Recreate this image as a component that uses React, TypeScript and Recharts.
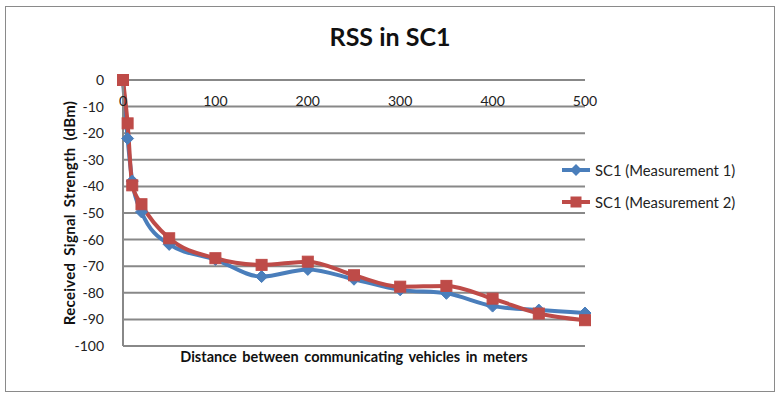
import React from "react";
import { LineChart, Line, XAxis, YAxis, CartesianGrid } from "recharts";

const distances = [0, 5, 10, 20, 50, 100, 150, 200, 250, 300, 350, 400, 450, 500];
const measurement1 = [0, -22, -38, -49.6, -61.8, -67.5, -73.9, -71.2, -74.9, -78.9, -80.2, -85, -86.5, -87.6];
const measurement2 = [0, -16.3, -39.6, -46.7, -59.5, -67, -69.5, -68.3, -73.4, -77.7, -77.4, -82.2, -87.8, -90.3];
const xTicks = [0, 100, 200, 300, 400, 500];
const yTicks = [0, -10, -20, -30, -40, -50, -60, -70, -80, -90, -100];
const seriesNames = ["SC1 (Measurement 1)", "SC1 (Measurement 2)"];

const BLUE = "#4A7EBB";
const RED = "#BE4B48";
const FONT = "Lato, 'Open Sans', sans-serif";

const data = distances.map((d, i) => ({ x: d, m1: measurement1[i], m2: measurement2[i] }));

const Diamond = (props: any) => {
  const { cx, cy, key } = props;
  if (cx == null || cy == null) return <g key={key} />;
  const r = 6;
  return (
    <polygon
      key={key}
      points={`${cx},${cy - r} ${cx + r},${cy} ${cx},${cy + r} ${cx - r},${cy}`}
      fill={BLUE}
      stroke={BLUE}
      strokeWidth={1}
    />
  );
};

const Square = (props: any) => {
  const { cx, cy, key } = props;
  if (cx == null || cy == null) return <g key={key} />;
  const s = 11;
  return <rect key={key} x={cx - s / 2} y={cy - s / 2} width={s} height={s} fill={RED} stroke={RED} strokeWidth={1} />;
};

const LegendBox = () => (
  <div style={{ position: "absolute", left: 562, top: 154, fontFamily: FONT, fontSize: 14.8, color: "#222" }}>
    {seriesNames.map((name, i) => (
      <div key={name} style={{ display: "flex", alignItems: "center", height: 32, whiteSpace: "nowrap" }}>
        <svg width={28} height={14} style={{ marginRight: 5 }}>
          <line x1={0} y1={7} x2={28} y2={7} stroke={i === 0 ? BLUE : RED} strokeWidth={4} />
          {i === 0 ? (
            <polygon points="14,1 20,7 14,13 8,7" fill={BLUE} />
          ) : (
            <rect x={8.5} y={1.5} width={11} height={11} fill={RED} />
          )}
        </svg>
        <span>{name}</span>
      </div>
    ))}
  </div>
);

export default function App() {
  return (
    <div style={{ position: "absolute", left: 0, top: 0, width: 782, height: 400, background: "#fff" }}>
      <div
        style={{
          position: "absolute",
          left: 5,
          top: 6,
          width: 770,
          height: 386,
          border: "1px solid #8a8a8a",
          boxSizing: "border-box",
        }}
      />
      <div
        style={{
          position: "absolute",
          left: 0,
          width: 780,
          top: 21,
          textAlign: "center",
          fontFamily: FONT,
          fontWeight: 700,
          fontSize: 25,
          color: "#111",
        }}
      >
        RSS in SC1
      </div>
      <div
        style={{
          position: "absolute",
          left: 69,
          top: 213,
          transform: "translate(-50%, -50%) rotate(-90deg)",
          whiteSpace: "nowrap",
          fontFamily: FONT,
          fontWeight: 700,
          fontSize: 15,
          letterSpacing: 0.3,
          wordSpacing: 3,
          color: "#111",
        }}
      >
        Received Signal Strength (dBm)
      </div>
      <div
        style={{
          position: "absolute",
          left: 123,
          width: 462,
          top: 348,
          textAlign: "center",
          fontFamily: FONT,
          fontWeight: 700,
          fontSize: 14.5,
          wordSpacing: 2,
          color: "#111",
          whiteSpace: "nowrap",
        }}
      >
        Distance between communicating vehicles in meters
      </div>
      <LegendBox />
      <div style={{ position: "absolute", left: 0, top: 0 }}>
        <LineChart width={782} height={400} data={data} margin={{ top: 60, right: 197, bottom: 54, left: 73 }}>
          <CartesianGrid vertical={false} stroke="#888888" strokeWidth={2} />
          <XAxis
            dataKey="x"
            type="number"
            orientation="top"
            height={20}
            domain={[0, 500]}
            ticks={xTicks}
            interval={0}
            axisLine={false}
            tickLine={false}
            tick={{ fill: "#222", fontSize: 14, fontFamily: FONT, dy: 34 }}
          />
          <YAxis
            type="number"
            domain={[-100, 0]}
            ticks={yTicks}
            interval={0}
            width={50}
            axisLine={{ stroke: "#888888", strokeWidth: 2 }}
            tickLine={false}
            tickMargin={13}
            tick={{ fill: "#222", fontSize: 14, fontFamily: FONT }}
          />
          <Line
            type="monotone"
            dataKey="m1"
            name={seriesNames[0]}
            stroke={BLUE}
            strokeWidth={4}
            dot={Diamond}
            activeDot={false}
            isAnimationActive={false}
          />
          <Line
            type="monotone"
            dataKey="m2"
            name={seriesNames[1]}
            stroke={RED}
            strokeWidth={4}
            dot={Square}
            activeDot={false}
            isAnimationActive={false}
          />
        </LineChart>
      </div>
    </div>
  );
}
